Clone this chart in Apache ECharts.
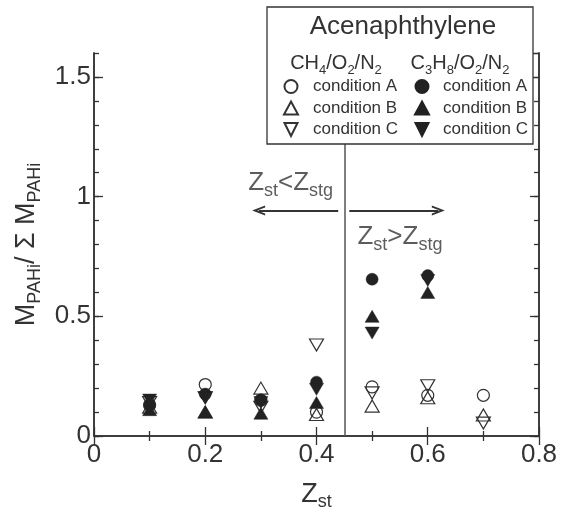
<!DOCTYPE html>
<html>
<head>
<meta charset="utf-8">
<script src="https://cdn.jsdelivr.net/npm/echarts@6/dist/echarts.min.js"></script>
<style>
html,body{margin:0;padding:0;background:#fff;}
#c{width:562px;height:509px;}
</style>
</head>
<body>
<div id="c"></div>
<script>
// ---- data ----
const xTickLabels = ['0', '0.2', '0.4', '0.6', '0.8'];
const yTickLabels = ['0', '0.5', '1', '1.5'];
const xCH4 = [0.1, 0.2, 0.3, 0.4, 0.5, 0.6, 0.7];
const ch4A = [0.13, 0.215, 0.15, 0.10, 0.205, 0.17, 0.17];
const ch4B = [0.12, 0.10, 0.20, 0.09, 0.125, 0.16, 0.088];
const ch4C = [0.14, 0.16, 0.12, 0.38, 0.18, 0.21, 0.054];
const xC3H8 = [0.1, 0.2, 0.3, 0.4, 0.5, 0.6];
const c3A = [0.13, 0.175, 0.15, 0.225, 0.655, 0.67];
const c3B = [0.11, 0.10, 0.095, 0.14, 0.50, 0.60];
const c3C = [0.15, 0.16, 0.14, 0.195, 0.43, 0.65];
const zStg = 0.45;
const leftArrow = [[0.439, 0.942], [0.296, 0.942]];
const rightArrow = [[0.459, 0.942], [0.619, 0.942]];
const annotations = [[0.3535, 1.058, 'lt'], [0.55, 0.833, 'gt']];

const FONT = "'Liberation Sans', Arial, Helvetica, sans-serif";
const INK = '#333';
const DARK = '#222';
const downTri = 'path://M0,0 L10,0 L5,10 Z';
const chevron = 'path://M5,0 L10,12 L8,12 L5,4.6 L2,12 L0,12 Z';

const pairs = (xs, ys) => xs.map((x, i) => [x, ys[i]]);

const chart = echarts.init(document.getElementById('c'), null, {renderer: 'canvas'});

const subRich = (main, sub, pad) => ({
  m: {fontSize: main, lineHeight: main + 2, fontFamily: FONT, color: INK},
  s: {fontSize: sub, lineHeight: sub, padding: [pad, 0, 0, 0], fontFamily: FONT, color: INK}
});

const baseAxisLine = {show: true, lineStyle: {color: INK, width: 1.5}};

function openSeries(name, ys, symbol, size) {
  return {
    name, type: 'scatter', data: pairs(xCH4, ys), symbol, symbolSize: size,
    xAxisIndex: 0, yAxisIndex: 0, z: 3,
    itemStyle: {color: 'rgba(255,255,255,0)', borderColor: INK, borderWidth: 1.2, opacity: 1},
    emphasis: {disabled: true}
  };
}
function filledSeries(name, ys, symbol, size) {
  return {
    name, type: 'scatter', data: pairs(xC3H8, ys), symbol, symbolSize: size,
    xAxisIndex: 0, yAxisIndex: 0, z: 4,
    itemStyle: {color: DARK, borderColor: DARK, borderWidth: 0.5, opacity: 1},
    emphasis: {disabled: true}
  };
}

const legendText = {fontSize: 17, color: INK, fontFamily: FONT, lineHeight: 14};

const option = {
  animation: false,
  backgroundColor: '#fff',
  textStyle: {fontFamily: FONT, color: INK},
  grid: {left: 94, right: 23, top: 53, bottom: 73, containLabel: false, outerBoundsMode: 'none'},
  xAxis: [
    {
      type: 'value', min: 0, max: 0.8, interval: 0.2, position: 'bottom',
      axisLine: baseAxisLine,
      axisTick: {show: true, inside: true, length: 9, lineStyle: {color: INK, width: 1.3}},
      minorTick: {show: true, splitNumber: 2, length: 5, lineStyle: {color: INK, width: 1.3}},
      splitLine: {show: false}, minorSplitLine: {show: false},
      axisLabel: {
        fontSize: 26, color: INK, margin: 6, fontFamily: FONT,
        formatter: (v) => { const i = Math.round(v / 0.2); return xTickLabels[i] !== undefined ? xTickLabels[i] : ''; }
      },
      name: '{m|Z}{s|st}', nameLocation: 'middle', nameGap: 44,
      nameTextStyle: {rich: subRich(27, 18, 16)}
    },
    {
      type: 'value', min: 0, max: 0.8, interval: 0.2, position: 'top',
      axisLine: baseAxisLine,
      axisTick: {show: true, inside: true, length: 9, lineStyle: {color: INK, width: 1.3}},
      minorTick: {show: true, splitNumber: 2, length: 5, lineStyle: {color: INK, width: 1.3}},
      splitLine: {show: false}, axisLabel: {show: false}
    }
  ],
  yAxis: [
    {
      type: 'value', min: 0, max: 1.6, interval: 0.1, position: 'left',
      axisLine: baseAxisLine,
      axisTick: {show: true, inside: true, length: 5, lineStyle: {color: INK, width: 1.3}},
      splitLine: {show: false}, axisLabel: {show: false}
    },
    {
      type: 'value', min: 0, max: 1.6, interval: 0.5, position: 'left',
      axisLine: baseAxisLine,
      axisTick: {show: true, inside: true, length: 9, lineStyle: {color: INK, width: 1.3}},
      splitLine: {show: false},
      axisLabel: {
        fontSize: 26, color: INK, margin: 3, fontFamily: FONT, showMaxLabel: false,
        formatter: (v) => { const i = Math.round(v / 0.5); return (Math.abs(v - i * 0.5) < 1e-6 && yTickLabels[i] !== undefined) ? yTickLabels[i] : ''; }
      },
      name: '{m|M}{s|PAHi}{m|/ Σ M}{s|PAHi}', nameLocation: 'middle', nameGap: 41, nameRotate: 90,
      nameTextStyle: {rich: subRich(27, 18, 16)}
    },
    {
      type: 'value', min: 0, max: 1.6, interval: 0.1, position: 'right',
      axisLine: baseAxisLine,
      axisTick: {show: true, inside: true, length: 5, lineStyle: {color: INK, width: 1.3}},
      splitLine: {show: false}, axisLabel: {show: false}
    },
    {
      type: 'value', min: 0, max: 1.6, interval: 0.5, position: 'right',
      axisLine: baseAxisLine,
      axisTick: {show: true, inside: true, length: 9, lineStyle: {color: INK, width: 1.3}},
      splitLine: {show: false}, axisLabel: {show: false}
    }
  ],
  legend: [
    {
      data: ['CH4 condition A', 'CH4 condition B', 'CH4 condition C'],
      orient: 'vertical', left: 278, top: 73, itemWidth: 14, itemHeight: 13, itemGap: 4.5,
      selectedMode: false, z: 60,
      formatter: (n) => n.replace(/^\S+ /, ''),
      textStyle: Object.assign({padding: [0, 0, 0, 10]}, legendText)
    },
    {
      data: ['C3H8 condition A', 'C3H8 condition B', 'C3H8 condition C'],
      orient: 'vertical', left: 409, top: 73, itemWidth: 14, itemHeight: 13, itemGap: 4.5,
      selectedMode: false, z: 60,
      formatter: (n) => n.replace(/^\S+ /, ''),
      textStyle: Object.assign({padding: [0, 0, 0, 9]}, legendText)
    }
  ],
  graphic: [
    {type: 'rect', z: 50, shape: {x: 267, y: 7, width: 266, height: 137},
     style: {fill: '#fff', stroke: INK, lineWidth: 1.3}},
    {type: 'text', z: 60, style: {x: 403, y: 27, text: 'Acenaphthylene', fontSize: 26, fontFamily: FONT,
      fill: INK, align: 'center', verticalAlign: 'middle'}},
    {type: 'text', z: 60, style: {x: 336, y: 63, text: '{m|CH}{s|4}{m|/O}{s|2}{m|/N}{s|2}', align: 'center', verticalAlign: 'middle',
      rich: {m: {fontSize: 20, lineHeight: 22, fontFamily: FONT, fill: INK}, s: {fontSize: 13, lineHeight: 13, padding: [14, 0, 0, 0], fontFamily: FONT, fill: INK}}}},
    {type: 'text', z: 60, style: {x: 460, y: 63, text: '{m|C}{s|3}{m|H}{s|8}{m|/O}{s|2}{m|/N}{s|2}', align: 'center', verticalAlign: 'middle',
      rich: {m: {fontSize: 20, lineHeight: 22, fontFamily: FONT, fill: INK}, s: {fontSize: 13, lineHeight: 13, padding: [14, 0, 0, 0], fontFamily: FONT, fill: INK}}}}
  ],
  series: [
    {
      name: 'guides', type: 'scatter', data: [], xAxisIndex: 0, yAxisIndex: 0, z: 2,
      markLine: {
        silent: true, symbol: ['none', 'none'], animation: false,
        lineStyle: {color: '#555', width: 1.5, type: 'solid'}, label: {show: false},
        data: [{xAxis: zStg}]
      }
    },
    {
      name: 'arrows', type: 'scatter', data: [], xAxisIndex: 0, yAxisIndex: 0, z: 2,
      markLine: {
        silent: true, symbol: ['none', chevron], symbolSize: [10, 13], animation: false,
        lineStyle: {color: '#333', width: 2, type: 'solid'}, label: {show: false},
        data: [
          [{coord: leftArrow[0]}, {coord: leftArrow[1]}],
          [{coord: rightArrow[0]}, {coord: rightArrow[1]}]
        ]
      }
    },
    {
      name: 'annot', type: 'scatter', xAxisIndex: 0, yAxisIndex: 0, z: 5,
      data: annotations, symbolSize: 1, itemStyle: {color: 'rgba(0,0,0,0)'},
      emphasis: {disabled: true}, silent: true,
      label: {
        show: true, position: 'inside',
        formatter: (p) => p.data[2] === 'lt' ? '{m|Z}{s|st}{m|<Z}{s|stg}' : '{m|Z}{s|st}{m|>Z}{s|stg}',
        rich: subRich(26, 18, 16)
      }
    },
    openSeries('CH4 condition A', ch4A, 'circle', 12),
    openSeries('CH4 condition B', ch4B, 'triangle', [14, 12]),
    openSeries('CH4 condition C', ch4C, downTri, [14, 12]),
    filledSeries('C3H8 condition A', c3A, 'circle', 12),
    filledSeries('C3H8 condition B', c3B, 'triangle', [14, 12]),
    filledSeries('C3H8 condition C', c3C, downTri, [14, 12])
  ]
};
chart.setOption(option);
</script>
</body>
</html>
